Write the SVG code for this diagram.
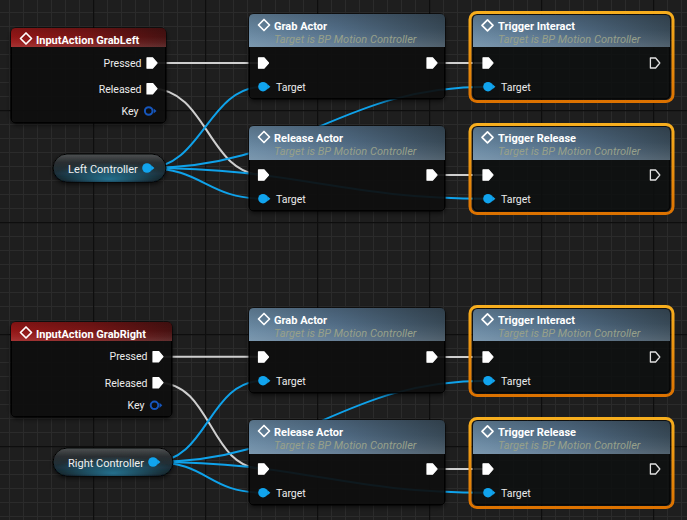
<svg xmlns="http://www.w3.org/2000/svg" xmlns:xlink="http://www.w3.org/1999/xlink" width="687" height="520" viewBox="0 0 687 520">
<defs>
<style>
.title{font-family:Roboto,"Liberation Sans",sans-serif;font-weight:bold;font-size:11px;fill:#ffffff}
.sub{font-family:Roboto,"Liberation Sans",sans-serif;font-style:italic;font-size:11px;fill:#97a08a}
.pin{font-family:Roboto,"Liberation Sans",sans-serif;font-size:10.5px;fill:#ececec}
.var{font-family:Roboto,"Liberation Sans",sans-serif;font-size:11px;fill:#f0f0f0}
.body{fill:#0d0f0f;fill-opacity:0.85;stroke:#000;stroke-width:1}
.sel{fill:none;stroke:url(#selG);stroke-width:3}
.ex{fill:none;stroke:#cfcfcf;stroke-width:2}
.ob{fill:none;stroke:#0fa2ea;stroke-width:2}
</style>
<pattern id="gridF" patternUnits="userSpaceOnUse" x="9" y="12" width="14" height="14">
<rect width="14" height="14" fill="#1e1e1e"/>
<path d="M0.5,0V14M0,0.5H14" stroke="#2b2b2b" stroke-width="1"/>
</pattern>
<pattern id="gridM" patternUnits="userSpaceOnUse" x="93" y="110" width="112" height="112">
<path d="M0.5,0V112M0,0.5H112" stroke="#0e0e0e" stroke-width="1.5"/>
</pattern>
<linearGradient id="hdrFunc" x1="0" y1="0" x2="1" y2="0">
<stop offset="0" stop-color="#6a8aa4"/>
<stop offset="0.45" stop-color="#54708a"/>
<stop offset="1" stop-color="#3a4c5a"/>
</linearGradient>
<linearGradient id="hdrRed" x1="0" y1="0" x2="1" y2="0">
<stop offset="0" stop-color="#9a1818"/>
<stop offset="0.5" stop-color="#7c1616"/>
<stop offset="1" stop-color="#4a1212"/>
</linearGradient>
<linearGradient id="gloss" x1="0" y1="0" x2="0" y2="1">
<stop offset="0" stop-color="#000000" stop-opacity="0.18"/>
<stop offset="0.45" stop-color="#000000" stop-opacity="0.05"/>
<stop offset="0.75" stop-color="#ffffff" stop-opacity="0.05"/>
<stop offset="1" stop-color="#ffffff" stop-opacity="0.12"/>
</linearGradient>
<linearGradient id="selG" x1="0" y1="0" x2="0" y2="1">
<stop offset="0" stop-color="#f7ae1e"/>
<stop offset="1" stop-color="#dc7200"/>
</linearGradient>
<linearGradient id="pillG" x1="0" y1="0" x2="0" y2="1">
<stop offset="0" stop-color="#4e5254"/>
<stop offset="0.3" stop-color="#2a2e30"/>
<stop offset="0.7" stop-color="#1b2e38"/>
<stop offset="1" stop-color="#121a1e"/>
</linearGradient>
<radialGradient id="pillGlow" cx="0.5" cy="0.8" r="0.5" fx="0.5" fy="0.9">
<stop offset="0" stop-color="#2a90b8" stop-opacity="0.7"/>
<stop offset="1" stop-color="#2a90b8" stop-opacity="0"/>
</radialGradient>
<filter id="sh" x="-10%" y="-10%" width="120%" height="130%">
<feDropShadow dx="0" dy="2" stdDeviation="2" flood-color="#000" flood-opacity="0.6"/>
</filter>
<path id="execF" d="M-5,-5.2H0.6L5,0L0.6,5.2H-5Z" fill="#ffffff" stroke="#ffffff" stroke-width="1.2" stroke-linejoin="round"/>
<path id="execO" d="M-4.6,-5H0.6L4.8,0L0.6,5H-4.6Z" fill="none" stroke="#e0e0e0" stroke-width="1.3" stroke-linejoin="round"/>
<g id="obj"><circle r="4.8" fill="#11a4ee"/><path d="M4.2,-2.8L7.4,0L4.2,2.8Z" fill="#11a4ee"/></g>
<g id="key"><circle r="3.8" fill="none" stroke="#1656bc" stroke-width="2"/><path d="M5,-2.6L7.8,0L5,2.6Z" fill="#1656bc"/></g>
<path id="dia" d="M0,-5.5L5.5,0L0,5.5L-5.5,0Z" fill="none" stroke="#ffffff" stroke-width="1.7" stroke-linejoin="round"/>
</defs>

<rect width="687" height="520" fill="url(#gridF)"/>
<rect width="687" height="520" fill="url(#gridM)"/>

<g id="connectors">
<path class="ex" d="M152,63H263.5"/>
<path class="ex" d="M152,88.7C207,88.7 208.5,175 263.5,175"/>
<path class="ex" d="M432,63H488"/>
<path class="ex" d="M432,175H488"/>
<path class="ob" d="M147,168C202,168 208,86.7 263,86.7"/>
<path class="ob" d="M147,168C202,168 208,198.7 263,198.7"/>
<path class="ob" d="M147,168C297,168 338,86.7 488,86.7"/>
<path class="ob" d="M147,168C297,168 338,198.7 488,198.7"/>

<path class="ex" d="M158,356.7H263.5"/>
<path class="ex" d="M158,382.7C213,382.7 208.5,469 263.5,469"/>
<path class="ex" d="M432,357H488"/>
<path class="ex" d="M432,469H488"/>
<path class="ob" d="M153,462C208,462 208,380.7 263,380.7"/>
<path class="ob" d="M153,462C208,462 208,492.7 263,492.7"/>
<path class="ob" d="M153,462C303,462 338,380.7 488,380.7"/>
<path class="ob" d="M153,462C303,462 338,492.7 488,492.7"/>
</g>

<g id="n-grableft" transform="translate(11,28)">
<rect class="body" x="0" y="0" width="155" height="95" rx="5" filter="url(#sh)"/>
<path d="M0,19V5Q0,0 5,0H150Q155,0 155,5V19Z" fill="url(#hdrRed)"/>
<path d="M0,19V5Q0,0 5,0H150Q155,0 155,5V19Z" fill="url(#gloss)"/>
<use href="#dia" x="15" y="10.5"/>
<text class="title" x="25" y="15.5">InputAction GrabLeft</text>
<text class="pin" x="130.5" y="38.7" text-anchor="end">Pressed</text>
<use href="#execF" x="141" y="35"/>
<text class="pin" x="130.5" y="64.5" text-anchor="end">Released</text>
<use href="#execF" x="141" y="60.7"/>
<text class="pin" x="127.5" y="87" text-anchor="end">Key</text>
<use href="#key" x="137.7" y="83"/>
</g>

<g id="n-leftcontroller">
<rect x="53" y="154" width="113" height="28" rx="14" fill="url(#pillG)" stroke="#050505" stroke-width="1" filter="url(#sh)"/>
<rect x="53" y="154" width="113" height="28" rx="14" fill="url(#pillGlow)"/>
<text class="var" x="68" y="172.5">Left Controller</text>
<use href="#obj" x="147" y="168"/>
</g>

<g id="n-grabactor-l" transform="translate(249,14)">
<rect class="body" x="0" y="0" width="196" height="85" rx="5" filter="url(#sh)"/>
<path d="M0,33V5Q0,0 5,0H191Q196,0 196,5V33Z" fill="url(#hdrFunc)"/>
<path d="M0,33V5Q0,0 5,0H191Q196,0 196,5V33Z" fill="url(#gloss)"/>
<use href="#dia" x="15" y="11"/>
<text class="title" x="25" y="15.5">Grab Actor</text>
<text class="sub" x="25" y="28.5">Target is BP Motion Controller</text>
<use href="#execF" x="14.5" y="49"/>
<use href="#execF" x="183" y="49"/>
<use href="#obj" x="14" y="72.7"/>
<text class="pin" x="27" y="76.5">Target</text>
</g>

<g id="n-releaseactor-l" transform="translate(249,126)">
<rect class="body" x="0" y="0" width="196" height="85" rx="5" filter="url(#sh)"/>
<path d="M0,34V5Q0,0 5,0H191Q196,0 196,5V34Z" fill="url(#hdrFunc)"/>
<path d="M0,34V5Q0,0 5,0H191Q196,0 196,5V34Z" fill="url(#gloss)"/>
<use href="#dia" x="15" y="11"/>
<text class="title" x="25" y="15.5">Release Actor</text>
<text class="sub" x="25" y="28.5">Target is BP Motion Controller</text>
<use href="#execF" x="14.5" y="49"/>
<use href="#execF" x="183" y="49"/>
<use href="#obj" x="14" y="72.7"/>
<text class="pin" x="27" y="76.5">Target</text>
</g>

<g id="n-triggerinteract-l" transform="translate(473,15)">
<rect class="body" x="0" y="0" width="197" height="84" rx="5"/>
<path d="M0,32V5Q0,0 5,0H192Q197,0 197,5V32Z" fill="url(#hdrFunc)"/>
<path d="M0,32V5Q0,0 5,0H192Q197,0 197,5V32Z" fill="url(#gloss)"/>
<rect class="sel" x="-3" y="-2.5" width="203" height="89" rx="7"/>
<use href="#dia" x="14.5" y="10.3"/>
<text class="title" x="25" y="14.5">Trigger Interact</text>
<text class="sub" x="25" y="27.5">Target is BP Motion Controller</text>
<use href="#execF" x="15" y="48"/>
<use href="#execO" x="182" y="48"/>
<use href="#obj" x="15" y="71.7"/>
<text class="pin" x="28" y="75.5">Target</text>
</g>

<g id="n-triggerrelease-l" transform="translate(473,127)">
<rect class="body" x="0" y="0" width="197" height="84" rx="5"/>
<path d="M0,33V5Q0,0 5,0H192Q197,0 197,5V33Z" fill="url(#hdrFunc)"/>
<path d="M0,33V5Q0,0 5,0H192Q197,0 197,5V33Z" fill="url(#gloss)"/>
<rect class="sel" x="-3" y="-2.5" width="203" height="89" rx="7"/>
<use href="#dia" x="14.5" y="10.3"/>
<text class="title" x="25" y="14.5">Trigger Release</text>
<text class="sub" x="25" y="27.5">Target is BP Motion Controller</text>
<use href="#execF" x="15" y="48"/>
<use href="#execO" x="182" y="48"/>
<use href="#obj" x="15" y="71.7"/>
<text class="pin" x="28" y="75.5">Target</text>
</g>

<g id="n-grabright" transform="translate(11,322)">
<rect class="body" x="0" y="0" width="161" height="95" rx="5" filter="url(#sh)"/>
<path d="M0,19V5Q0,0 5,0H156Q161,0 161,5V19Z" fill="url(#hdrRed)"/>
<path d="M0,19V5Q0,0 5,0H156Q161,0 161,5V19Z" fill="url(#gloss)"/>
<use href="#dia" x="15" y="10.5"/>
<text class="title" x="25" y="15.5">InputAction GrabRight</text>
<text class="pin" x="136.5" y="38.4" text-anchor="end">Pressed</text>
<use href="#execF" x="147" y="34.7"/>
<text class="pin" x="136.5" y="64.5" text-anchor="end">Released</text>
<use href="#execF" x="147" y="60.7"/>
<text class="pin" x="133.5" y="87" text-anchor="end">Key</text>
<use href="#key" x="143.5" y="83.3"/>
</g>

<g id="n-rightcontroller">
<rect x="53" y="448" width="120" height="28" rx="14" fill="url(#pillG)" stroke="#050505" stroke-width="1" filter="url(#sh)"/>
<rect x="53" y="448" width="120" height="28" rx="14" fill="url(#pillGlow)"/>
<text class="var" x="68" y="466.5">Right Controller</text>
<use href="#obj" x="153" y="462"/>
</g>

<g id="n-grabactor-r" transform="translate(249,308)">
<rect class="body" x="0" y="0" width="196" height="85" rx="5" filter="url(#sh)"/>
<path d="M0,33V5Q0,0 5,0H191Q196,0 196,5V33Z" fill="url(#hdrFunc)"/>
<path d="M0,33V5Q0,0 5,0H191Q196,0 196,5V33Z" fill="url(#gloss)"/>
<use href="#dia" x="15" y="11"/>
<text class="title" x="25" y="15.5">Grab Actor</text>
<text class="sub" x="25" y="28.5">Target is BP Motion Controller</text>
<use href="#execF" x="14.5" y="49"/>
<use href="#execF" x="183" y="49"/>
<use href="#obj" x="14" y="72.7"/>
<text class="pin" x="27" y="76.5">Target</text>
</g>

<g id="n-releaseactor-r" transform="translate(249,420)">
<rect class="body" x="0" y="0" width="196" height="85" rx="5" filter="url(#sh)"/>
<path d="M0,34V5Q0,0 5,0H191Q196,0 196,5V34Z" fill="url(#hdrFunc)"/>
<path d="M0,34V5Q0,0 5,0H191Q196,0 196,5V34Z" fill="url(#gloss)"/>
<use href="#dia" x="15" y="11"/>
<text class="title" x="25" y="15.5">Release Actor</text>
<text class="sub" x="25" y="28.5">Target is BP Motion Controller</text>
<use href="#execF" x="14.5" y="49"/>
<use href="#execF" x="183" y="49"/>
<use href="#obj" x="14" y="72.7"/>
<text class="pin" x="27" y="76.5">Target</text>
</g>

<g id="n-triggerinteract-r" transform="translate(473,309)">
<rect class="body" x="0" y="0" width="197" height="84" rx="5"/>
<path d="M0,32V5Q0,0 5,0H192Q197,0 197,5V32Z" fill="url(#hdrFunc)"/>
<path d="M0,32V5Q0,0 5,0H192Q197,0 197,5V32Z" fill="url(#gloss)"/>
<rect class="sel" x="-3" y="-2.5" width="203" height="89" rx="7"/>
<use href="#dia" x="14.5" y="10.3"/>
<text class="title" x="25" y="14.5">Trigger Interact</text>
<text class="sub" x="25" y="27.5">Target is BP Motion Controller</text>
<use href="#execF" x="15" y="48"/>
<use href="#execO" x="182" y="48"/>
<use href="#obj" x="15" y="71.7"/>
<text class="pin" x="28" y="75.5">Target</text>
</g>

<g id="n-triggerrelease-r" transform="translate(473,421)">
<rect class="body" x="0" y="0" width="197" height="84" rx="5"/>
<path d="M0,33V5Q0,0 5,0H192Q197,0 197,5V33Z" fill="url(#hdrFunc)"/>
<path d="M0,33V5Q0,0 5,0H192Q197,0 197,5V33Z" fill="url(#gloss)"/>
<rect class="sel" x="-3" y="-2.5" width="203" height="89" rx="7"/>
<use href="#dia" x="14.5" y="10.3"/>
<text class="title" x="25" y="14.5">Trigger Release</text>
<text class="sub" x="25" y="27.5">Target is BP Motion Controller</text>
<use href="#execF" x="15" y="48"/>
<use href="#execO" x="182" y="48"/>
<use href="#obj" x="15" y="71.7"/>
<text class="pin" x="28" y="75.5">Target</text>
</g>
</svg>
